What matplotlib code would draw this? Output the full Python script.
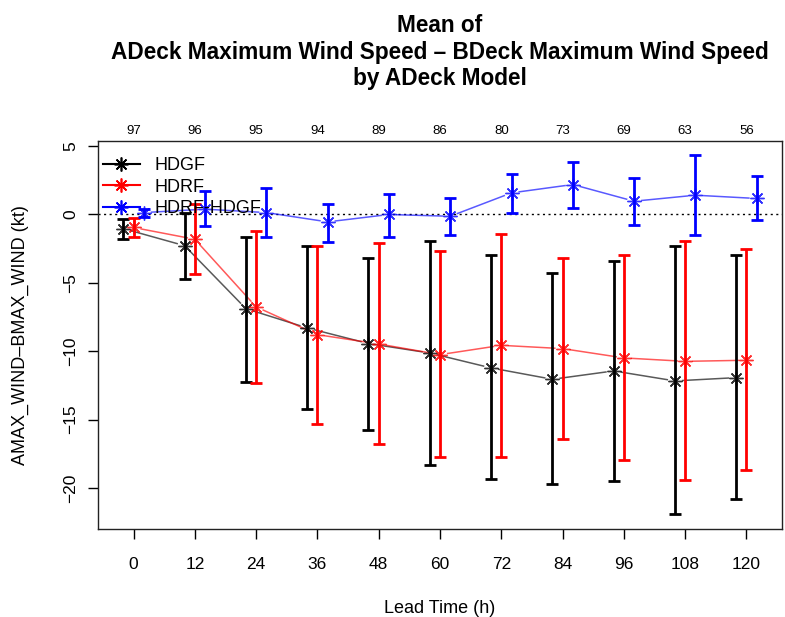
import numpy as np
import matplotlib
matplotlib.use("Agg")
import matplotlib.pyplot as plt
from matplotlib.lines import Line2D

plt.rcParams['font.family'] = ['Liberation Sans', 'DejaVu Sans']

# Lead times (h) and sample counts per lead time
lead_times = [0, 12, 24, 36, 48, 60, 72, 84, 96, 108, 120]
counts = [97, 96, 95, 94, 89, 86, 80, 73, 69, 63, 56]

# Mean intensity error (kt) with lower/upper bounds of the error bars
hdgf_mean = [-1.05, -2.30, -6.90, -8.31, -9.45, -10.14, -11.23, -12.06, -11.45, -12.18, -11.94]
hdgf_low = [-1.78, -4.70, -12.26, -14.20, -15.74, -18.30, -19.37, -19.74, -19.52, -21.93, -20.81]
hdgf_high = [-0.37, 0.12, -1.66, -2.31, -3.17, -1.97, -3.00, -4.29, -3.39, -2.34, -2.95]

hdrf_mean = [-0.97, -1.83, -6.77, -8.80, -9.48, -10.26, -9.58, -9.82, -10.50, -10.75, -10.67]
hdrf_low = [-1.68, -4.39, -12.33, -15.35, -16.81, -17.76, -17.76, -16.40, -17.93, -19.44, -18.71]
hdrf_high = [-0.24, 0.78, -1.24, -2.31, -2.07, -2.70, -1.41, -3.17, -3.00, -1.95, -2.56]

diff_mean = [0.12, 0.37, 0.12, -0.56, -0.02, -0.15, 1.56, 2.17, 0.95, 1.39, 1.15]
diff_low = [-0.20, -0.85, -1.66, -2.02, -1.66, -1.49, 0.12, 0.46, -0.80, -1.49, -0.44]
diff_high = [0.37, 1.68, 1.92, 0.78, 1.51, 1.15, 2.97, 3.78, 2.68, 4.31, 2.80]

series = [
    ("HDGF", "black", -2.0, hdgf_mean, hdgf_low, hdgf_high),
    ("HDRF", "red", 0.0, hdrf_mean, hdrf_low, hdrf_high),
    ("HDRF-HDGF", "blue", 2.0, diff_mean, diff_low, diff_high),
]

W, H, DPI = 785, 617, 100
fig = plt.figure(figsize=(W / DPI, H / DPI), dpi=DPI)
ax = fig.add_axes([98 / W, 1 - 529 / H, (782 - 98) / W, (529 - 141) / H])
ax.set_xlim(-6.96, 126.96)
ax.set_ylim(-23.0, 5.35)

ax.axhline(0, color="black", lw=1, ls=(0, (1.5, 2.5)), zorder=1)

star = (8, 2, 0)
GAP = 7.0  # pixels left blank around each point, like type="b"


def gapped_line(xs, ys, color):
    pts = ax.transData.transform(np.column_stack([xs, ys]))
    inv = ax.transData.inverted()
    for p0, p1 in zip(pts[:-1], pts[1:]):
        d = p1 - p0
        L = np.hypot(*d)
        if L <= 2 * GAP:
            continue
        u = d / L
        a = inv.transform(p0 + u * GAP)
        b = inv.transform(p1 - u * GAP)
        ax.plot([a[0], b[0]], [a[1], b[1]], color=color, lw=1.1, alpha=0.65,
                solid_capstyle="butt", zorder=2)


for name, color, off, mean, low, high in series:
    xs = np.array(lead_times, dtype=float) + off
    m = np.array(mean)
    gapped_line(xs, m, color)
    yerr = np.vstack([m - np.array(low), np.array(high) - m])
    ax.errorbar(xs, m, yerr=yerr, fmt="none", ecolor=color, elinewidth=2.0,
                capsize=4, capthick=2.0, zorder=3)
    ax.plot(xs, m, ls="none", marker=star, ms=10, mec=color, mfc=color,
            mew=1.0, zorder=4, alpha=0.8)

ax.set_xticks(lead_times)
ax.set_xticklabels([str(v) for v in lead_times])
ax.set_yticks([-20, -15, -10, -5, 0, 5])
ax.set_yticklabels(["\u221220", "\u221215", "\u221210", "\u22125", "0", "5"],
                   rotation=90, va="center")
ax.tick_params(axis="both", direction="out", length=7, width=1, labelsize=12.5)
ax.tick_params(axis="x", pad=13)
ax.tick_params(axis="y", pad=7)
for sp in ax.spines.values():
    sp.set_linewidth(1)
    sp.set_color("#222222")

top = ax.secondary_xaxis("top")
top.set_xticks(lead_times)
top.set_xticklabels([str(c) for c in counts])
top.tick_params(length=0, labelsize=9.5, pad=3)
top.spines["top"].set_visible(False)

ax.set_xlabel("Lead Time (h)", fontsize=13, labelpad=20)
ax.set_ylabel("AMAX_WIND\u2013BMAX_WIND (kt)", fontsize=13, labelpad=25)

fig.text(440 / W, 1 - 52 / H,
         "Mean of\nADeck Maximum Wind Speed \u2013 BDeck Maximum Wind Speed\nby ADeck Model",
         ha="center", va="center", fontsize=16.3, fontweight="bold",
         linespacing=1.2)

handles = [Line2D([], [], color=c, lw=1.5, marker=star, ms=10, mew=1.2)
           for _, c, *_ in series]
ax.legend(handles, [s[0] for s in series], loc="upper left", frameon=False,
          fontsize=13, handlelength=2.0, handletextpad=0.85, labelspacing=0.25,
          borderpad=0.3, borderaxespad=0.0, bbox_to_anchor=(0.0, 0.972))

fig.savefig("out.png", dpi=DPI)
